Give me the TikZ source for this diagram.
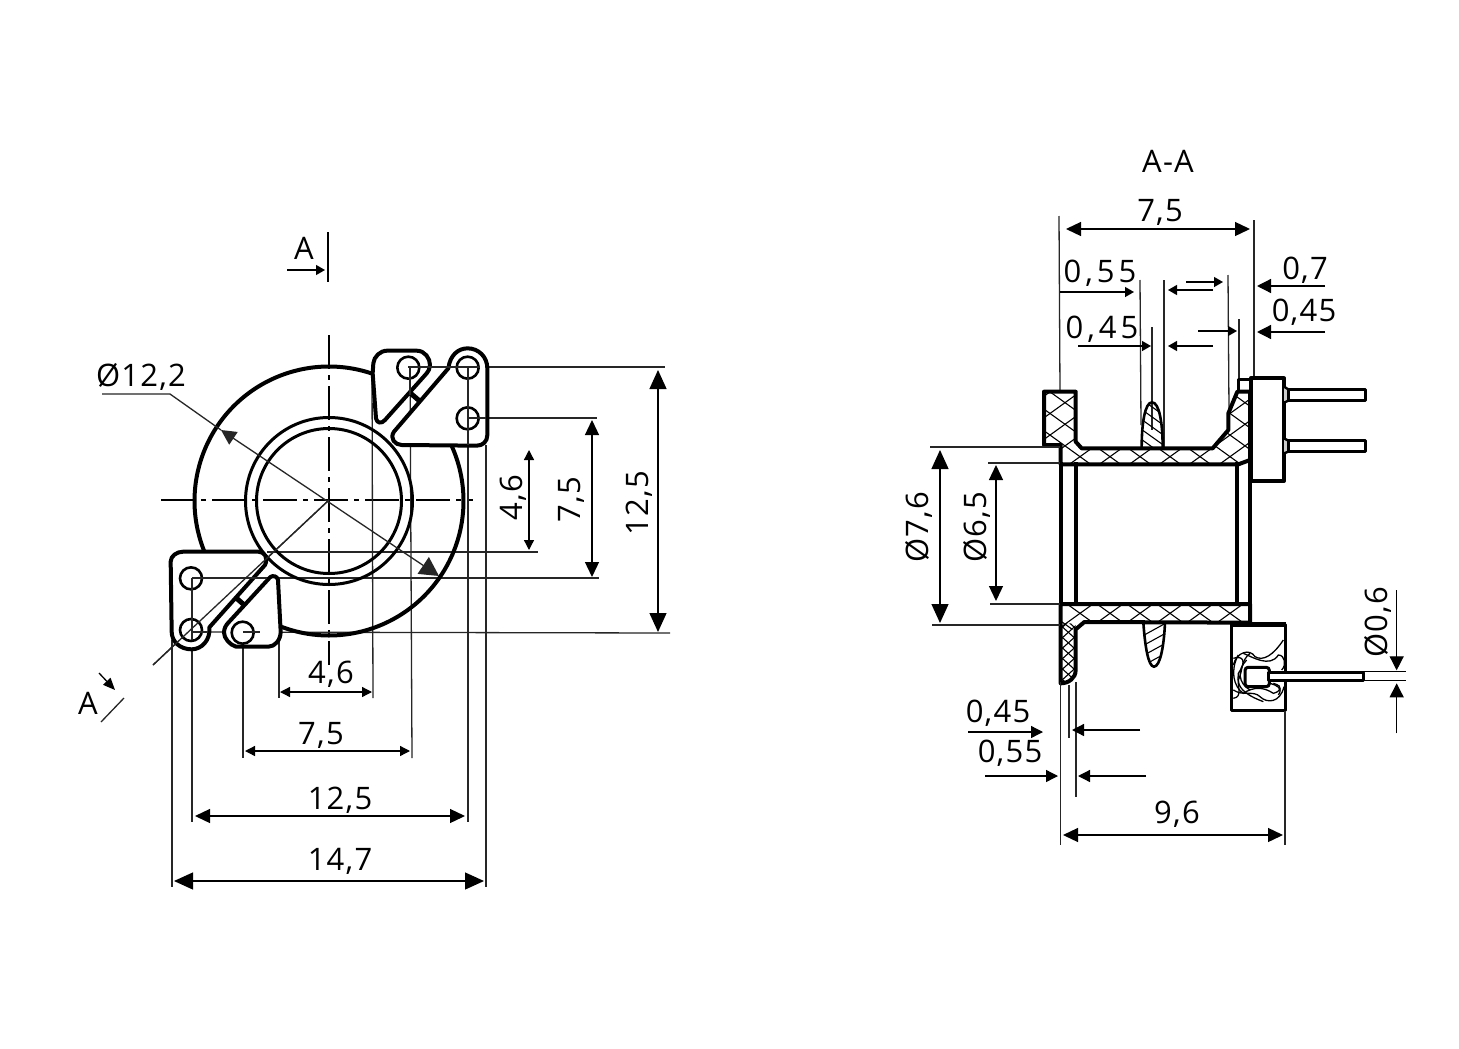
\documentclass[tikz,border=0pt]{standalone}
\usepackage{fontspec}
\setmainfont[LetterSpace=4]{Open Sans}
\newfontfamily\widefont[LetterSpace=13]{Open Sans}
\usetikzlibrary{arrows.meta}
\tikzset{
 thin line/.style={line width=1.3pt,black!85},
 outline/.style={line width=4pt,line join=round},
 mid/.style={line width=3pt,line join=round},
 hatch/.style={line width=1.1pt},
 dimbig/.style={line width=1.3pt,{Triangle[length=19pt,width=17pt]}-{Triangle[length=19pt,width=17pt]}},
 dimmid/.style={line width=1.3pt,{Triangle[length=15pt,width=14pt]}-{Triangle[length=15pt,width=14pt]}},
 dimsmall/.style={line width=1.3pt,{Triangle[length=10pt,width=10pt]}-{Triangle[length=10pt,width=10pt]}},
 tipsmall/.style={line width=1.3pt,-{Triangle[length=9pt,width=10pt]}},
 tipmid/.style={line width=1.3pt,-{Triangle[length=14pt,width=14pt]}},
 lab/.style={font=\fontsize{31}{32}\selectfont,inner sep=0pt,text=black,yshift=-1.5pt},
 rlab/.style={font=\fontsize{31}{32}\selectfont,inner sep=0pt,text=black,xshift=1.5pt,rotate=90},
 labw/.style={font=\fontsize{31}{32}\selectfont\widefont,inner sep=0pt,text=black,yshift=-1.5pt},
 axis/.style={line width=1.3pt,dash pattern=on 34pt off 6pt on 5pt off 6pt},
}
\newcommand{\crosshatch}[6]{% x0 x1 second slope yref ylen
 \foreach \i in {#1,#3,...,#2}{
  \draw[hatch] (\i-#6/#4,#5-#6) -- (\i+#6/#4,#5+#6);
  \draw[hatch] (\i-#6/#4,#5+#6) -- (\i+#6/#4,#5-#6);
 }}
\begin{document}
\begin{tikzpicture}[x=1pt,y=-1pt]
\useasboundingbox[fill=white] (0,0) rectangle (1459,1049);
% ---------- left view --------
\draw[axis] (329,335) -- (329,665);
\draw[axis] (161,500) -- (473,500);
\draw[thin line] (329,500) -- (153,665);
% extension lines
\draw[thin line] (408,367) -- (665,367);
\draw[thin line] (468,418) -- (597,418);
\draw[thin line] (267,552) -- (538,552);
\draw[thin line] (192,578) -- (599,578);
\draw[thin line] (192,632) -- (670,633);
\draw[thin line] (279,632) -- (279,698);
\draw[thin line] (372,372) -- (373,698);
\draw[thin line] (243,632) -- (243,758);
\draw[thin line] (410,367) -- (412,758);
\draw[thin line] (192,578) -- (192,822);
\draw[thin line] (468,367) -- (468,822);
\draw[thin line] (172,640) -- (172,887);
\draw[thin line] (486,445) -- (486,887);
\draw[outline] plot[smooth,domain=-71.4:-202,samples=60] ({329+134.5*cos(\x)},{501+134.5*sin(\x)});
\draw[outline] plot[smooth,domain=110.6:-24,samples=60] ({329+134.5*cos(\x)},{501+134.5*sin(\x)});
\draw[mid] (329,501) circle[radius=83.5];
\draw[mid] (329,501) circle[radius=72.5];
\begin{scope}[shift={(150,330)},scale=0.33333]
 % upper right tabs
 \draw[outline,fill=white] (668,130) -- (670,100) .. controls (672,80) and (690,62) .. (712,62) -- (800,62) .. controls (825,62) and (840,85) .. (840,105) .. controls (840,115) and (835,125) .. (830,130) -- (705,270) .. controls (695,282) and (680,280) .. (678,265) -- cycle;
 \draw[outline,fill=white] (895,115) .. controls (900,75) and (925,55) .. (953,55) .. controls (985,55) and (1012,80) .. (1012,115) -- (1012,315) .. controls (1012,335) and (998,347) .. (980,347) -- (755,345) .. controls (735,345) and (718,325) .. (732,305) -- cycle;
 \draw[line width=5pt] (782,190) -- (810,214);
 \draw[outline,fill=white] (62,695) .. controls (62,678) and (80,665) .. (100,665) -- (325,665) .. controls (345,665) and (355,685) .. (345,705) -- (178,892) .. controls (182,930) and (155,958) .. (125,958) .. controls (90,958) and (65,935) .. (65,905) -- cycle;
 \draw[outline,fill=white] (360,742) .. controls (368,735) and (382,738) .. (384,750) -- (392,905) .. controls (392,930) and (375,950) .. (355,950) -- (258,950) .. controls (240,945) and (222,925) .. (222,908) .. controls (222,895) and (228,885) .. (235,878) -- cycle;
 \draw[line width=5pt] (260,805) -- (285,827);
 \foreach \n/\x/\y in {a/775/113,b/953/113,c/953/265,d/123/745,e/123/900,f/278/908}
  \draw[line width=2.6pt] (\x,\y) circle[radius=33];
\end{scope}
% lines running across the tabs
\draw[thin line] (408,367) -- (480,367);
\draw[thin line] (468,367) -- (468,445);
\draw[thin line] (468,418) -- (486,418);
\draw[thin line] (192,578) -- (192,640);
\draw[thin line] (192,578) -- (267,578);
\draw[thin line] (192,632) -- (208,632);
\draw[thin line] (243,632) -- (260,632);
\draw[thin line] (329,500) -- (153,665);
\draw[thin line] (410,367) -- (410,395);
% diameter
\draw[thin line] (102,394) -- (170,394) -- (221,430);
\draw[thin line,{Triangle[length=15pt,width=15pt]}-{Triangle[length=19pt,width=20pt]}] (221,430) -- (439,576);
\node[lab] (d122) at (141,375) {Ø12,2};
% dims
\draw[dimsmall] (280,692) -- (372,692);
\node[lab] (t46b) at (331,673) {4,6};
\draw[dimsmall] (245,751) -- (410,751);
\node[lab] (t75b) at (321,734) {7,5};
\draw[dimmid] (195,816) -- (465,816);
\node[lab] (t125b) at (340,799) {12,5};
\draw[dimbig] (174,881) -- (484,881);
\node[lab] (t147) at (340,860) {14,7};
\draw[dimsmall] (529,450) -- (529,550);
\node[rlab] (t46r) at (512,498) {4,6};
\draw[dimmid] (592,420) -- (592,577);
\node[rlab] (t75r) at (570,500) {7,5};
\draw[dimbig] (658,370) -- (658,632);
\node[rlab] (t125r) at (638,503) {12,5};
% section marks
\node[lab,yshift=1.5pt] (a1) at (304,248) {A};
\draw[tipsmall] (287,270) -- (325,270);
\draw[line width=1.8pt] (328,232) -- (328,282);
\node[lab,yshift=1.5pt] (a2) at (88,703) {A};
\draw[tipsmall,-{Triangle[length=12pt,width=10pt]}] (99,673) -- (115,690);
\draw[thin line] (101,722) -- (124,698);
% ---------- right view -------
\node[lab,yshift=1.5pt] (aa) at (1168,161) {A-A};
\draw[dimmid] (1066,229) -- (1250,229);
\node[lab] (t75t) at (1160,211) {7,5};
\draw[thin line] (1059,216) -- (1060,392);
\draw[thin line] (1254,220) -- (1254,378);
\draw[thin line] (1140,280) -- (1141,425);
\draw[thin line] (1164,280) -- (1164,450);
\draw[thin line] (1228,275) -- (1229,410);
\draw[thin line] (1239,319) -- (1239,380);
\draw[thin line] (1152,327) -- (1152,430);
\node[labw] (t055) at (1100,272) {0,55};
\draw[tipsmall] (1060,292) -- (1134,292);
\draw[tipsmall] (1213,290) -- (1168,290);
\draw[tipsmall] (1186,282) -- (1223,282);
\draw[tipsmall] (1198,331) -- (1237,331);
\draw[tipsmall] (1213,346) -- (1168,346);
\draw[tipsmall] (1078,346) -- (1151,346);
\node[labw] (t045) at (1102,328) {0,45};
\node[lab] (t07) at (1305,269) {0,7};
\draw[tipmid] (1325,286) -- (1257,286);
\node[lab] (t045r) at (1304,311) {0,45};
\draw[tipmid] (1325,332) -- (1257,332);
% tube
\draw[outline] (1060.7,462) -- (1060.7,606);
\draw[outline] (1076,462) -- (1076,606);
\draw[outline] (1237,462) -- (1237,606);
\draw[outline] (1250,462) -- (1250,606);
% upper section
\begin{scope}[shift={(1030,370)},scale=0.33333]
 \begin{scope}
  \clip (42,65)--(137,65)--(137,215)--(155,235)--(548,235)--(595,180)--(595,130)--(622,65)--(660,65)--(660,270)--(625,283)--(92,283)--(92,225)--(42,225)--cycle;
  \crosshatch{-300}{1300}{-210}{0.72}{260}{300}
 \end{scope}
 \draw[outline] (42,65)--(137,65)--(137,215)--(155,235)--(548,235)--(595,180)--(595,130)--(622,65)--(660,65)--(660,270)--(625,283)--(92,283)--(92,225)--(42,225)--cycle;
 \begin{scope}
  \clip (335,232) .. controls (335,160) and (345,97) .. (366,97) .. controls (388,97) and (398,160) .. (398,232) -- cycle;
  \foreach \y in {110,140,...,260} \draw[hatch] (330,\y-25) -- (400,\y+25);
 \end{scope}
 \draw[line width=2.6pt] (335,232) .. controls (335,160) and (345,97) .. (366,97) .. controls (388,97) and (398,160) .. (398,232);
 \draw[mid] (625,28) rectangle (662,65);
 \draw[outline,fill=white] (662,25) rectangle (762,333);
 \draw[line width=2.4pt,fill=gray!40] (762,50) -- (775,58) -- (775,92) -- (762,98);
 \draw[line width=2.4pt,fill=gray!40] (762,205) -- (775,212) -- (775,245) -- (762,250);
 \draw[mid,fill=white] (775,58) rectangle (1005,92);
 \draw[mid,fill=white] (775,212) rectangle (1005,245);
\end{scope}
% lower section
\begin{scope}[shift={(1030,590)},scale=0.33333]
 \begin{scope}
  \clip (92,42)--(660,42)--(660,98)--(163,96)--(137,118)--(92,118)--cycle;
  \crosshatch{-300}{1300}{-210}{0.72}{70}{200}
 \end{scope}
 \begin{scope}
  \clip (92,100)--(137,100)--(137,240) .. controls (137,265) and (115,280) .. (92,280)--cycle;
  \crosshatch{-200}{500}{-165}{0.9}{190}{200}
 \end{scope}
 \draw[outline] (92,42)--(660,42)--(660,98)--(163,96)--(137,118)--(137,240) .. controls (137,265) and (115,280) .. (92,280)--cycle;
 \begin{scope}
  \clip (340,97) .. controls (345,170) and (355,230) .. (372,230) .. controls (390,230) and (402,170) .. (405,97) -- cycle;
  \foreach \y in {120,150,...,260} \draw[hatch] (330,\y+22) -- (410,\y-22);
 \end{scope}
 \draw[line width=2.6pt] (340,97) .. controls (345,170) and (355,230) .. (372,230) .. controls (390,230) and (402,170) .. (405,97);
 \draw[mid] (605,103) rectangle (765,362);
 \draw[line width=5pt] (603,103) -- (768,103);
 \begin{scope}
  \clip (605,103) rectangle (765,362);
  \draw[line width=1.3pt] (610,225) .. controls (620,185) and (660,175) .. (675,200) .. controls (700,215) and (730,195) .. (760,150);
  \draw[line width=1.3pt] (610,205) .. controls (640,195) and (650,215) .. (625,250) .. controls (620,290) and (640,320) .. (610,325);
  \draw[line width=1.3pt] (640,190) .. controls (665,200) and (720,235) .. (745,195) .. controls (765,195) and (770,225) .. (755,240);
  \draw[line width=1.3pt] (610,300) .. controls (640,320) and (670,300) .. (690,320) .. controls (710,340) and (750,340) .. (762,290);
  \draw[line width=1.3pt] (625,195) .. controls (600,240) and (610,290) .. (640,310) .. controls (670,290) and (700,290) .. (730,310) .. controls (750,305) and (765,290) .. (730,280);
  \draw[line width=1.3pt] (650,210) .. controls (620,240) and (625,280) .. (660,300);
  \draw[line width=1.3pt] (660,190) .. controls (630,215) and (640,240) .. (625,270) .. controls (625,300) and (660,320) .. (700,335);
  \draw[line width=1.3pt] (720,280) .. controls (740,285) and (760,295) .. (745,315);
 \end{scope}
 \draw[line width=3pt,fill=white,rounded corners=3pt] (645,232) rectangle (718,290);
 \draw[mid,fill=white] (716,247) rectangle (1000,270);
 \draw[line width=1.4pt] (1000,245) -- (1128,245);
 \draw[line width=1.4pt] (1000,272) -- (1128,272);
 \draw[thin line] (765,362) -- (765,765);
 \draw[tipmid] (1100,0) -- (1100,241);
 \draw[tipmid] (1100,430) -- (1100,280);
\end{scope}
% left bottom
\draw[thin line] (1060.7,682) -- (1060.7,845);
\draw[thin line] (1069,685) -- (1069,738);
\draw[thin line] (1076,682) -- (1076,797);
\draw[tipsmall,-{Triangle[length=12pt,width=12pt]}] (968,732) -- (1043,732);
\draw[tipsmall,-{Triangle[length=12pt,width=12pt]}] (1140,730) -- (1072,730);
\node[lab] (t045l) at (998,712) {0,45};
\draw[tipsmall,-{Triangle[length=12pt,width=12pt]}] (985,776) -- (1058,776);
\draw[tipsmall,-{Triangle[length=12pt,width=12pt]}] (1146,776) -- (1078,776);
\node[lab] (t055l) at (1010,752) {0,55};
\draw[dimmid] (1063,835) -- (1283,835);
\node[lab] (t96) at (1177,813) {9,6};
% left dims
\draw[thin line] (930,447) -- (1060,447);
\draw[thin line] (932,625) -- (1060,625);
\draw[thin line] (988,463) -- (1060,463);
\draw[thin line] (990,604) -- (1060,604);
\draw[dimbig] (940,450) -- (940,623);
\draw[dimmid] (996,465) -- (996,601);
\node[rlab] (d76) at (917,527) {Ø7,6};
\node[rlab] (d65) at (975,527) {Ø6,5};
\node[rlab] (d06) at (1376,622) {Ø0,6};
\end{tikzpicture}
\end{document}
